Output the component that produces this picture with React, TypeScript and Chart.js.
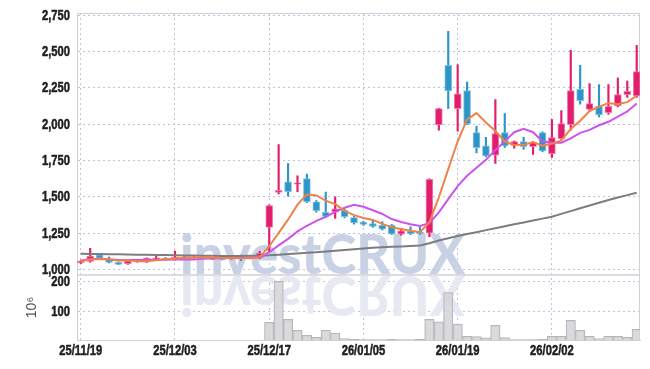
import React, { useEffect, useRef } from 'react';
import { Chart, registerables } from 'chart.js';

Chart.register(...registerables);

const dates = [
  '25/11/19', '25/11/20', '25/11/21', '25/11/24', '25/11/25', '25/11/26', '25/11/27', '25/11/28', '25/12/01', '25/12/02',
  '25/12/03', '25/12/04', '25/12/05', '25/12/08', '25/12/09', '25/12/10', '25/12/11', '25/12/12', '25/12/15', '25/12/16',
  '25/12/17', '25/12/18', '25/12/19', '25/12/22', '25/12/23', '25/12/24', '25/12/26', '25/12/29', '25/12/30', '26/01/02',
  '26/01/05', '26/01/06', '26/01/07', '26/01/08', '26/01/09', '26/01/12', '26/01/13', '26/01/14', '26/01/15', '26/01/16',
  '26/01/19', '26/01/20', '26/01/21', '26/01/22', '26/01/23', '26/01/26', '26/01/27', '26/01/28', '26/01/29', '26/01/30',
  '26/02/02', '26/02/03', '26/02/04', '26/02/05', '26/02/06', '26/02/09', '26/02/10', '26/02/11', '26/02/12', '26/02/13',
];
const xTickIndexes = [0, 10, 20, 30, 40, 50];
const priceTicks = [1000, 1250, 1500, 1750, 2000, 2250, 2500, 2750];
const volumeTicks = [100, 200];

const opens = [
  1045, 1055, 1100, 1070, 1050, 1040, 1055, 1052, 1071, 1079,
  1068, 1078, 1080, 1085, 1070, 1080, 1072, 1082, 1080, 1082,
  1290, 1530, 1603, 1587, 1625, 1465, 1393, 1397, 1408, 1357,
  1327, 1316, 1304, 1305, 1243, 1264, 1258, 1250, 1995, 2405,
  2107, 2232, 1943, 1852, 1787, 1943, 1855, 1880, 1845, 1943,
  1797, 1900, 1997, 2240, 2102, 2123, 2080, 2127, 2203, 2195,
];
const highs = [
  1062, 1146, 1102, 1086, 1052, 1062, 1068, 1080, 1093, 1082,
  1127, 1088, 1088, 1088, 1082, 1083, 1088, 1100, 1087, 1125,
  1445, 1860, 1730, 1645, 1657, 1475, 1533, 1500, 1415, 1365,
  1332, 1340, 1329, 1310, 1283, 1294, 1290, 1625, 2110, 2640,
  2410, 2291, 1987, 1910, 2170, 2074, 1885, 1910, 1880, 1948,
  2033, 2094, 2509, 2406, 2280, 2273, 2273, 2319, 2298, 2543,
];
const lows = [
  1040, 1050, 1075, 1045, 1033, 1035, 1050, 1048, 1068, 1072,
  1065, 1075, 1077, 1079, 1068, 1065, 1070, 1060, 1077, 1075,
  1120, 1520, 1505, 1535, 1460, 1395, 1357, 1352, 1355, 1312,
  1303, 1290, 1272, 1240, 1236, 1240, 1242, 1225, 1959, 2108,
  1952, 1998, 1803, 1775, 1730, 1840, 1835, 1827, 1792, 1810,
  1771, 1895, 1959, 2138, 2090, 2050, 2068, 2120, 2185, 2185,
];
const closes = [
  1058, 1092, 1078, 1048, 1035, 1060, 1062, 1078, 1080, 1076,
  1085, 1083, 1084, 1082, 1078, 1068, 1085, 1076, 1084, 1113,
  1440, 1545, 1535, 1596, 1467, 1405, 1365, 1417, 1364, 1320,
  1310, 1296, 1278, 1245, 1266, 1246, 1246, 1620, 2107, 2230,
  2210, 2002, 1838, 1782, 1935, 1850, 1880, 1845, 1874, 1816,
  1908, 2004, 2232, 2162, 2142, 2065, 2123, 2205, 2226, 2363,
];
// volume in millions
const volumes = [
  5, 6, 5, 5, 5, 5, 5, 5, 5, 5,
  6, 5, 5, 5, 5, 5, 5, 5, 5, 6,
  65, 200, 75, 39, 22, 16, 40, 30, 12, 9,
  8, 8, 8, 9, 8, 8, 9, 75, 67, 163,
  59, 19, 18, 14, 55, 15, 8, 8, 8, 9,
  19, 19, 72, 39, 19, 12, 19, 19, 16, 42,
];
const ma5 = [
  1058, 1068, 1072, 1068, 1062, 1063, 1057, 1057, 1063, 1071,
  1076, 1080, 1082, 1082, 1082, 1079, 1079, 1078, 1078, 1085,
  1160, 1252, 1343, 1446, 1517, 1510, 1474, 1450, 1404, 1374,
  1355, 1341, 1314, 1290, 1279, 1266, 1256, 1325, 1497, 1690,
  1883, 2034, 2077, 2012, 1953, 1881, 1857, 1858, 1877, 1853,
  1865, 1889, 1967, 2024, 2090, 2121, 2145, 2139, 2152, 2196,
];
const ma10 = [
  1062, 1070, 1073, 1070, 1066, 1066, 1065, 1066, 1067, 1067,
  1069, 1069, 1069, 1073, 1077, 1078, 1080, 1080, 1080, 1084,
  1119, 1166, 1211, 1262, 1301, 1335, 1363, 1397, 1425, 1445,
  1432, 1408, 1382, 1347, 1327, 1311, 1299, 1319, 1393, 1484,
  1574, 1645, 1701, 1755, 1822, 1882, 1945, 1968, 1945, 1883,
  1873, 1873, 1903, 1941, 1961, 1993, 2017, 2053, 2088, 2143,
];
const ma60 = [
  1108, 1107, 1106, 1105, 1104, 1103, 1102, 1101, 1100, 1099,
  1098, 1097, 1096, 1095, 1094, 1093, 1093, 1093, 1094, 1095,
  1098, 1102, 1106, 1110, 1115, 1119, 1124, 1129, 1134, 1140,
  1145, 1150, 1153, 1156, 1158, 1161, 1165, 1180, 1200, 1215,
  1230, 1244, 1257, 1271, 1284, 1297, 1311, 1324, 1337, 1350,
  1363, 1383, 1402, 1421, 1440, 1459, 1478, 1495, 1512, 1528,
];

const UP = 'rgb(228,28,108)';
const UP_EDGE = 'rgba(240,120,170,0.9)';
const DOWN = 'rgb(44,150,200)';
const DOWN_EDGE = 'rgba(120,190,225,0.9)';
const GRID = 'rgba(172,180,212,0.8)';
const FRAME = 'rgb(208,208,214)';
const LABEL_FONT = "bold 14px 'Liberation Sans', Arial, sans-serif";
const LABEL_SQUEEZE = 0.8;

const fmt = new Intl.NumberFormat('en-US');

function squeezedText(ctx: CanvasRenderingContext2D, text: string, x: number, y: number, align: CanvasTextAlign) {
  ctx.save();
  ctx.translate(x, y);
  ctx.scale(LABEL_SQUEEZE, 1);
  ctx.textAlign = align;
  ctx.textBaseline = 'middle';
  ctx.lineWidth = 0.5;
  ctx.strokeText(text, 0, 0);
  ctx.fillText(text, 0, 0);
  ctx.restore();
}

// Tick labels in a narrow bold face (horizontally condensed Liberation Sans)
const tickLabelPlugin = {
  id: 'narrowTickLabels',
  afterDraw(chart: any) {
    const { ctx } = chart;
    const { x, y, vol } = chart.scales;
    ctx.save();
    ctx.font = LABEL_FONT;
    ctx.fillStyle = '#1e1e1e';
    ctx.strokeStyle = '#1e1e1e';
    y.ticks.forEach((t: any) => {
      squeezedText(ctx, fmt.format(t.value), y.right - 7, y.getPixelForValue(t.value) + 0.5, 'right');
    });
    vol.ticks.forEach((t: any) => {
      squeezedText(ctx, fmt.format(t.value), vol.right - 7, vol.getPixelForValue(t.value) + 0.5, 'right');
    });
    x.ticks.forEach((t: any) => {
      squeezedText(ctx, dates[t.value], x.getPixelForValue(t.value), x.top + 11.5, 'center');
    });
    ctx.restore();
  },
};

const framePlugin = {
  id: 'frameLines',
  beforeDatasetsDraw(chart: any) {
    const { ctx, chartArea } = chart;
    const sep = chart.scales.y.bottom;
    ctx.save();
    ctx.strokeStyle = FRAME;
    ctx.lineWidth = 1;
    ctx.beginPath();
    ctx.moveTo(chartArea.left, chartArea.top + 0.5);
    ctx.lineTo(chartArea.right, chartArea.top + 0.5);
    ctx.moveTo(chartArea.right - 0.5, chartArea.top);
    ctx.lineTo(chartArea.right - 0.5, chartArea.bottom);
    ctx.stroke();
    ctx.lineWidth = 1.5;
    ctx.beginPath();
    ctx.moveTo(chartArea.left, sep);
    ctx.lineTo(chartArea.right, sep);
    ctx.stroke();
    ctx.restore();
  },
};

const watermarkPlugin = {
  id: 'watermark',
  beforeDatasetsDraw(chart: any) {
    const { ctx, chartArea } = chart;
    const sep = chart.scales.y.bottom;
    const text = 'investCRUX';
    ctx.save();
    ctx.font = "900 56px Lato, 'DejaVu Sans', sans-serif";
    const w = ctx.measureText(text).width;
    const left = chartArea.left + 103;
    const sx = 285 / w;
    ctx.save();
    ctx.beginPath();
    ctx.rect(chartArea.left, chartArea.top, chartArea.width, sep - chartArea.top);
    ctx.clip();
    ctx.translate(left, sep - 1);
    ctx.scale(sx, 1);
    ctx.fillStyle = 'rgb(201,209,229)';
    ctx.fillText(text, 0, 0);
    ctx.restore();
    ctx.save();
    ctx.beginPath();
    ctx.rect(chartArea.left, sep, chartArea.width, chartArea.bottom - sep);
    ctx.clip();
    ctx.translate(left, sep + 1);
    ctx.scale(sx, -1);
    ctx.fillStyle = 'rgb(231,233,242)';
    ctx.fillText(text, 0, 0);
    ctx.restore();
    ctx.restore();
  },
};

export default function App() {
  const ref = useRef<HTMLCanvasElement | null>(null);

  useEffect(() => {
    document.body.style.margin = '0';
    const canvas = ref.current;
    if (!canvas) return;

    const isUp = closes.map((c, i) => c >= opens[i]);
    const bodyColors = isUp.map((u) => (u ? UP : DOWN));
    const edgeColors = isUp.map((u) => (u ? UP_EDGE : DOWN_EDGE));

    const chart = new Chart(canvas, {
      type: 'bar',
      data: {
        datasets: [
          {
            type: 'line',
            label: 'MA5',
            data: ma5.map((v, i) => ({ x: i, y: v })),
            borderColor: 'rgb(240,130,72)',
            borderWidth: 2,
            pointRadius: 0,
            yAxisID: 'y',
            order: 0,
          } as any,
          {
            type: 'line',
            label: 'MA10',
            data: ma10.map((v, i) => ({ x: i, y: v })),
            borderColor: 'rgb(204,84,236)',
            borderWidth: 2,
            pointRadius: 0,
            yAxisID: 'y',
            order: 0,
          },
          {
            type: 'line',
            label: 'MA60',
            data: ma60.map((v, i) => ({ x: i, y: v })),
            borderColor: 'rgb(125,125,128)',
            borderWidth: 2,
            pointRadius: 0,
            yAxisID: 'y',
            order: 0,
          },
          {
            type: 'bar',
            label: 'wick',
            data: highs.map((h, i) => ({ x: i, y: [lows[i], h] })),
            backgroundColor: bodyColors,
            barThickness: 1.5,
            grouped: false,
            yAxisID: 'y',
            order: 2,
          },
          {
            type: 'bar',
            label: 'body',
            data: opens.map((o, i) => ({ x: i, y: [o, closes[i]] })),
            backgroundColor: bodyColors,
            borderColor: edgeColors,
            borderWidth: 1,
            borderSkipped: false,
            barThickness: 7,
            grouped: false,
            yAxisID: 'y',
            order: 1,
          },
          {
            type: 'bar',
            label: 'volume',
            data: volumes.map((v, i) => ({ x: i, y: v })),
            backgroundColor: 'rgba(212,212,214,0.85)',
            borderColor: 'rgb(182,182,186)',
            borderWidth: 1,
            barPercentage: 1,
            categoryPercentage: 1,
            grouped: false,
            yAxisID: 'vol',
            order: 3,
          },
        ],
      },
      options: {
        responsive: false,
        animation: false,
        events: [],
        devicePixelRatio: 1,
        layout: { padding: { top: 13, right: 10, left: 0, bottom: 0 } },
        plugins: {
          legend: { display: false },
          tooltip: { enabled: false },
        },
        scales: {
          x: {
            type: 'linear',
            offset: false,
            min: -0.4,
            max: 59.35,
            afterBuildTicks: (s: any) => {
              s.ticks = xTickIndexes.map((v) => ({ value: v }));
            },
            afterFit: (s: any) => {
              s.height = 29;
            },
            ticks: { display: false },
            grid: {
              color: GRID,
              drawTicks: false,
              offset: false,
            },
            border: { display: true, color: FRAME, dash: [2, 3] },
          } as any,
          y: {
            type: 'linear',
            position: 'left',
            stack: 'panels',
            stackWeight: 4.03,
            weight: 1,
            min: 962,
            max: 2766,
            afterBuildTicks: (s: any) => {
              s.ticks = priceTicks.map((v) => ({ value: v }));
            },
            afterFit: (s: any) => {
              s.width = 77;
            },
            ticks: { display: false },
            grid: { color: GRID, drawTicks: false },
            border: { display: true, color: FRAME, dash: [2, 3] },
          } as any,
          vol: {
            type: 'linear',
            position: 'left',
            stack: 'panels',
            stackWeight: 1,
            weight: 0,
            min: 7,
            max: 221,
            afterBuildTicks: (s: any) => {
              s.ticks = volumeTicks.map((v) => ({ value: v }));
            },
            afterFit: (s: any) => {
              s.width = 77;
            },
            title: {
              display: true,
              text: '10⁶',
              color: '#555',
              font: { family: "'Liberation Sans', Arial, sans-serif", size: 14 },
              padding: { top: 24, bottom: 0 },
            },
            ticks: { display: false },
            grid: { color: GRID, drawTicks: false },
            border: { display: true, color: FRAME, dash: [2, 3] },
          } as any,
        },
      } as any,
      plugins: [framePlugin, watermarkPlugin, tickLabelPlugin],
    });

    return () => chart.destroy();
  }, []);

  return (
    <div style={{ width: 650, height: 369, background: '#fff' }}>
      <canvas ref={ref} width={650} height={369} />
    </div>
  );
}
